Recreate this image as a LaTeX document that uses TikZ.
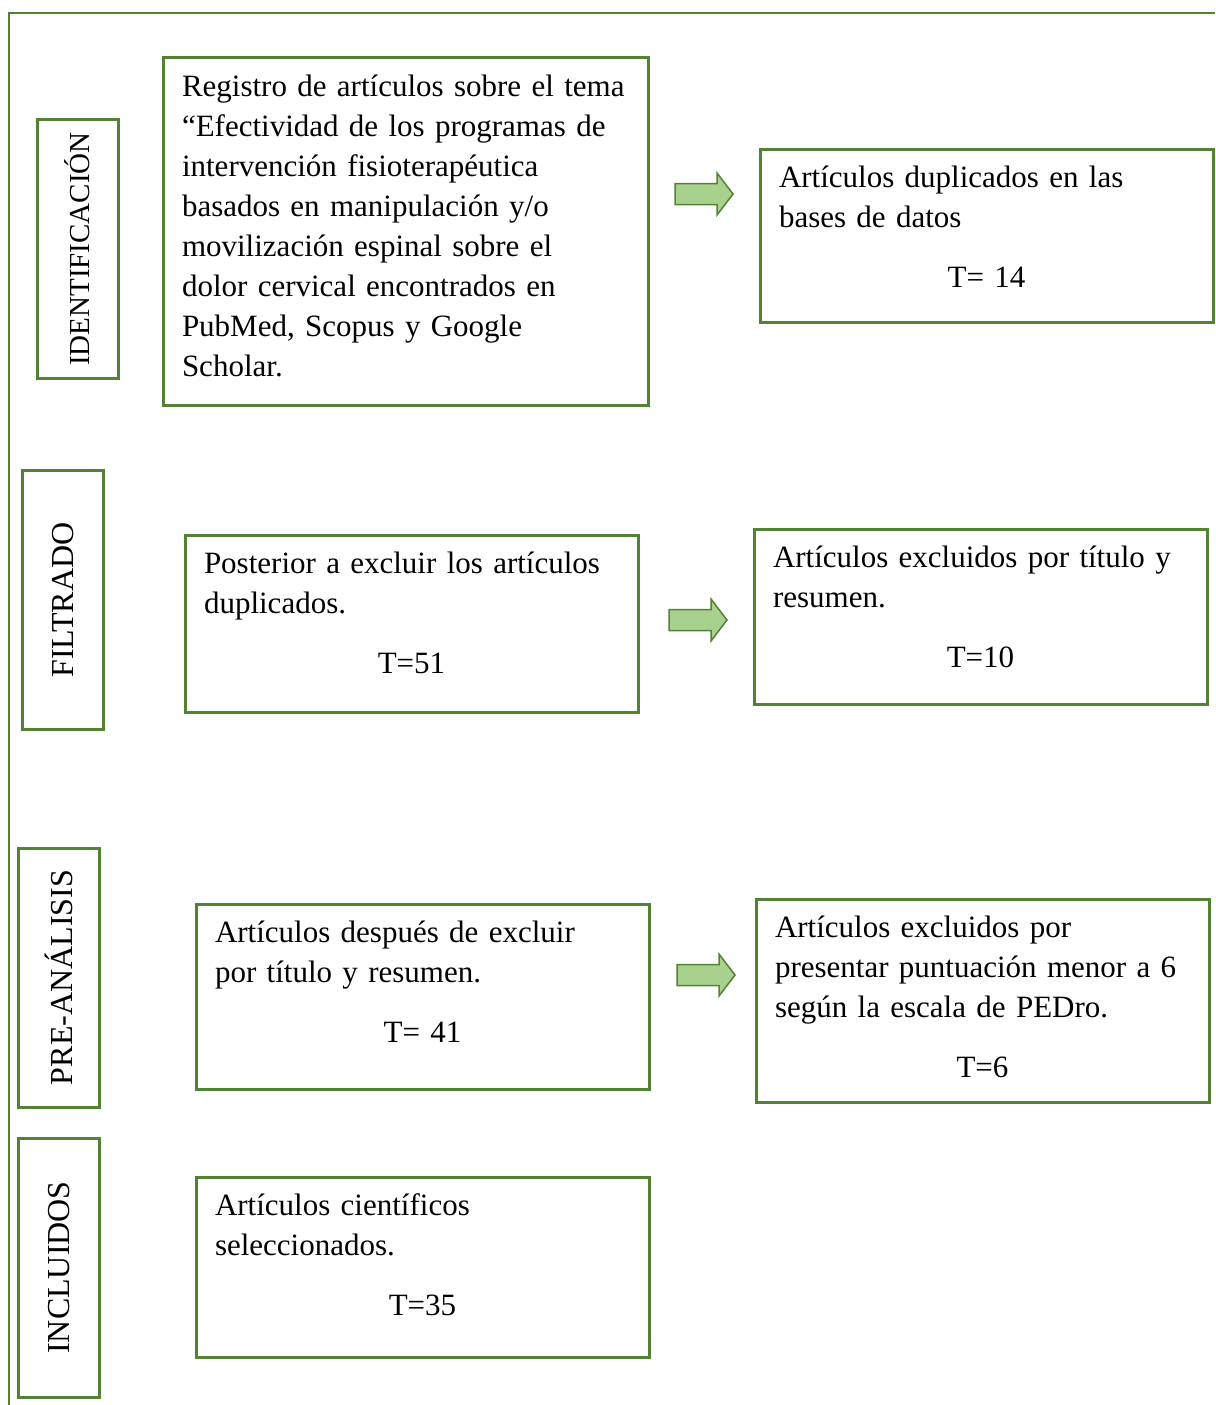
\documentclass[tikz,border=0pt]{standalone}
\usepackage{fontspec}
\setmainfont{Liberation Serif}
\usepackage{xcolor}
\usepackage{tikz}
\usetikzlibrary{positioning,calc}

\definecolor{verdeborde}{RGB}{84,130,53}
\definecolor{verdeflecha}{RGB}{169,209,142}
\setlength{\parindent}{0pt}
\newcommand{\total}[1]{\par\vspace{20pt}{\centering #1\par}}

\tikzset{
  caja/.style={draw=verdeborde, line width=3pt, anchor=north west, inner xsep=19pt, inner ysep=10.5pt,
    text height=28pt, font=\fontsize{31}{40}\selectfont},
  etiqueta/.style={draw=verdeborde, line width=3pt, rotate=90, inner sep=0pt, minimum width=259pt,
    minimum height=81pt, font=\fontsize{32}{40}\selectfont},
  flecha/.style={draw=verdeborde, line width=1.5pt, fill=verdeflecha, line join=miter}
}

\begin{document}
\begin{tikzpicture}[x=1pt, y=-1pt]
    \useasboundingbox (0,0) rectangle (1215,1405);

    % Marco exterior
    \draw[verdeborde, line width=2pt] (9,1405) -- (9,13) -- (1215,13);

    % Etapas
    \node[etiqueta, font=\fontsize{29}{36}\selectfont] (ident) at (77.5,249) {IDENTIFICACIÓN};
    \node[etiqueta] (filtro) at (63,600) {FILTRADO};
    \node[etiqueta] (preanal) at (59,977.5) {PRE-ANÁLISIS};
    \node[etiqueta] (incl) at (59,1267.5) {INCLUIDOS};

    % Cajas
    \node[caja, text width=447pt, text depth=298pt] (registro) at (161.5,56.5)
      {\raggedright Registro de artículos sobre el tema\newline “Efectividad de los programas de\newline intervención fisioterapéutica\newline basados en manipulación y/o\newline movilización espinal sobre el\newline dolor cervical encontrados en\newline PubMed, Scopus y Google\newline Scholar.};
    \node[caja, text width=415pt, text depth=124pt] (duplic) at (758.5,147.5)
      {\raggedright Artículos duplicados en las\newline bases de datos\total{T= 14}};

    \node[caja, text width=415pt, text depth=128pt] (posterior) at (183.5,533.5)
      {\raggedright Posterior a excluir los artículos\newline duplicados.\total{T=51}};
    \node[caja, text width=415pt, text depth=126pt] (exctitulo) at (752.5,527.5)
      {\raggedright Artículos excluidos por título y\newline resumen.\total{T=10}};

    \node[caja, text width=415pt, text depth=136pt] (despues) at (194.5,902.5)
      {\raggedright Artículos después de excluir\newline por título y resumen.\total{T= 41}};
    \node[caja, text width=415pt, text depth=154pt] (excpedro) at (754.5,897.5)
      {\raggedright Artículos excluidos por\newline presentar puntuación menor a 6\newline según la escala de PEDro.\total{T=6}};

    \node[caja, text width=415pt, text depth=131pt] (selec) at (194.5,1175.5)
      {\raggedright Artículos científicos\newline seleccionados.\total{T=35}};

    % Flechas
    \coordinate (f1) at (675,194);
    \coordinate (f2) at (669,620);
    \coordinate (f3) at (677,975);
    \foreach \f in {f1,f2,f3}
      \draw[flecha] (\f) ++(0,-10.5) -- ++(42,0) -- ++(0,-10.5) -- ++(16,21) -- ++(-16,21) -- ++(0,-10.5) -- ++(-42,0) -- cycle;
\end{tikzpicture}
\end{document}
